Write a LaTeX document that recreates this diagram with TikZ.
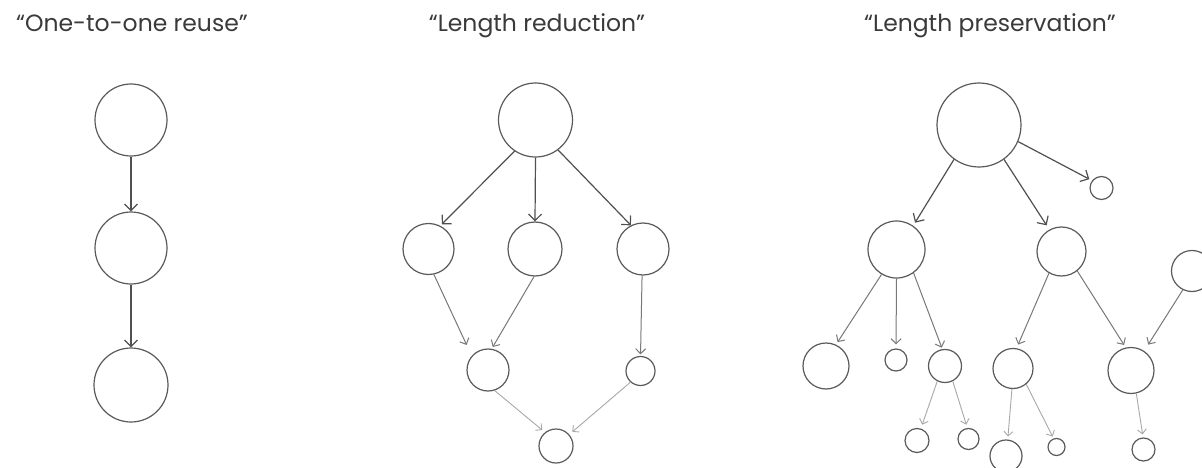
\documentclass[tikz,border=0pt]{standalone}
\usepackage{fontspec}
\setmainfont{Poppins}
\usetikzlibrary{arrows.meta}
\definecolor{cgray}{HTML}{5A5A5A}
\definecolor{aone}{HTML}{505050}
\definecolor{atwo}{HTML}{787878}
\definecolor{athree}{HTML}{A8A8A8}
\definecolor{tgray}{HTML}{3A3A3A}
\tikzset{
  cn/.style={circle,draw=cgray,line width=1.2pt,inner sep=0pt,minimum size={2*#1pt}},
  lvone/.style={draw=aone,line width=1.2pt,-{Straight Barb[length=6.5pt,width=13pt,line width=1.2pt]}},
  lvtwo/.style={draw=atwo,line width=1pt,-{Straight Barb[length=5pt,width=10pt,line width=1pt]}},
  lvthree/.style={draw=athree,line width=0.9pt,-{Straight Barb[length=4.5pt,width=9pt,line width=0.9pt]}},
  ttl/.style={anchor=base,text=tgray,font=\fontsize{23.5}{28}\selectfont,inner sep=0pt}
}
\begin{document}
\begin{tikzpicture}[x=1pt,y=-1pt]
\useasboundingbox (0,0) rectangle (1202,468);
\fill[white] (0,0) rectangle (1202,468);
\clip (0,0) rectangle (1202,468);
% titles
\node[ttl] (t1) at (132,32) {“One-to-one reuse”};
\node[ttl] (t2) at (537,32) {“Length reduction”};
\node[ttl] (t3) at (990,32) {“Length preservation”};
% left
\node[cn=36] (c1) at (131,120) {};
\node[cn=36] (c2) at (131,248) {};
\node[cn=37] (c3) at (131,385) {};
\draw[lvone] (c1.-90) -- (c2.90);
\draw[lvone] (c2.-90) -- (c3.90);
% middle
\node[cn=37] (mT) at (535.5,120) {};
\node[cn=25.5] (mL) at (428.5,249) {};
\node[cn=27] (mM) at (535,249) {};
\node[cn=26] (mR) at (643,249) {};
\node[cn=21] (m3L) at (488,370) {};
\node[cn=14.5] (m3R) at (640.5,371) {};
\node[cn=17] (mB) at (556,446) {};
\draw[lvone,shorten >=2pt] (mT.-124) -- (mL.63);
\draw[lvone] (mT.-90) -- (mM.90);
\draw[lvone] (mT.-53) -- (mR.117);
\draw[lvtwo,shorten >=12pt] (mL.-78) -- (m3L.139);
\draw[lvtwo,shorten >=2pt] (mM.-92) -- (m3L.80);
\draw[lvtwo,shorten >=1.5pt] (mR.-92) -- (m3R.90);
\draw[lvthree,shorten >=3.5pt] (m3L.-72) -- (mB.129);
\draw[lvthree,shorten >=4pt] (m3R.-132) -- (mB.41);
% right
\node[cn=42] (rT) at (979,125) {};
\node[cn=11.5] (rS) at (1101.5,188) {};
\node[cn=28.5] (r2L) at (896.5,249.5) {};
\node[cn=24.5] (r2M) at (1061.5,251.5) {};
\node[cn=20.5] (rF) at (1192,271) {};
\node[cn=23] (ra) at (826,366) {};
\node[cn=11] (rb) at (896,360) {};
\node[cn=16.5] (rc) at (945,366) {};
\node[cn=20] (rd) at (1013,368.5) {};
\node[cn=23] (re) at (1131,370.5) {};
\node[cn=12] (rf) at (917,440.5) {};
\node[cn=10.5] (rg) at (968.5,439) {};
\node[cn=16] (rh) at (1006,456) {};
\node[cn=8.5] (ri) at (1056.5,447) {};
\node[cn=11.5] (rj) at (1143.5,449.5) {};
\draw[lvone,shorten >=3.5pt] (rT.-126) -- (r2L.55);
\draw[lvone,shorten >=5pt] (rT.-54) -- (r2M.119);
\draw[lvone,shorten >=3pt] (rT.-23) -- (rS.142);
\draw[lvtwo,shorten >=3pt] (r2L.-121) -- (ra.65);
\draw[lvtwo,shorten >=4pt] (r2L.-90) -- (rb.90);
\draw[lvtwo,shorten >=1.5pt] (r2L.-54) -- (rc.99);
\draw[lvtwo,shorten >=4pt] (r2M.-120) -- (rd.80);
\draw[lvtwo,shorten >=3pt] (r2M.-51) -- (re.103);
\draw[lvtwo,shorten >=7.5pt] (rF.-116) -- (re.56);
\draw[lvthree,shorten >=4pt] (rc.-117) -- (rf.72);
\draw[lvthree,shorten >=3.5pt] (rc.-63) -- (rg.96);
\draw[lvthree,shorten >=3pt] (rd.-93) -- (rh.84);
\draw[lvthree,shorten >=2pt] (rd.-50) -- (ri.109);
\draw[lvthree,shorten >=3pt] (re.-77) -- (rj.92);
\end{tikzpicture}
\end{document}
